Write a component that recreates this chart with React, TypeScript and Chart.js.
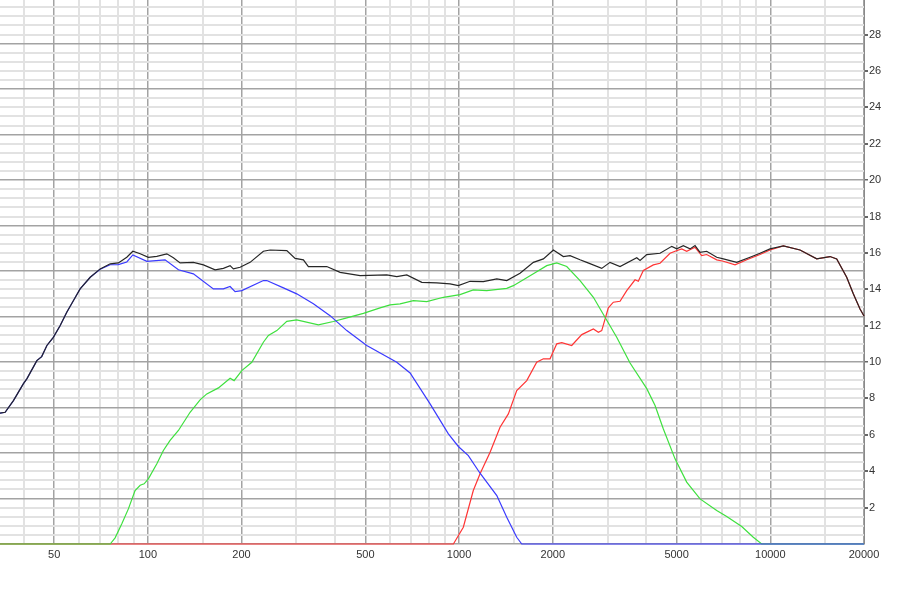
import { useEffect, useRef } from 'react';
import { Chart, registerables } from 'chart.js';

Chart.register(...registerables);

const FONT = '"Liberation Sans Narrow", "Liberation Sans", Arial, sans-serif';

// x-axis tick values (Hz)
const xMajorTicks = [50, 100, 200, 500, 1000, 2000, 5000, 10000, 20000];
const xMinorTicks = [40, 60, 70, 80, 90, 150, 300, 400, 600, 700, 800, 900, 1500, 3000, 4000, 6000, 7000, 8000, 9000, 15000];
// y-axis labelled ticks
const yTickLabels = [2, 4, 6, 8, 10, 12, 14, 16, 18, 20, 22, 24, 26, 28];

// Total (black)
const freqBlack = [33.5, 34.8, 37.0, 39.8, 40.9, 44.0, 45.6, 47.4, 49.7, 52.3, 54.9, 57.7, 60.6, 65.3, 70.3, 75.7, 80.4, 85.6, 89.5, 94.5, 100.4, 106.9, 115.1, 120.8, 127.0, 140.1, 150.9, 164.5, 174.9, 183.8, 188.3, 197.9, 213.1, 235.1, 247.1, 279.6, 297.3, 316.1, 328.0, 375.8, 414.7, 480.9, 585.7, 630.8, 679.2, 758.9, 847.8, 935.7, 994.7, 1085, 1197, 1322, 1423, 1570, 1733, 1866, 2009, 2163, 2273, 2447, 2572, 2873, 3055, 3290, 3723, 3815, 4009, 4423, 4824, 5005, 5254, 5521, 5730, 5947, 6246, 6727, 7063, 7801, 8606, 9267, 9978, 11014, 12458, 14096, 15553, 16344, 17597, 18477, 19420, 20000];
const dbBlack = [7.19, 7.24, 7.88, 8.80, 9.09, 10.08, 10.30, 10.91, 11.36, 12.01, 12.74, 13.38, 14.02, 14.66, 15.12, 15.40, 15.45, 15.76, 16.09, 15.95, 15.76, 15.81, 15.95, 15.73, 15.45, 15.48, 15.34, 15.07, 15.15, 15.30, 15.12, 15.21, 15.48, 16.09, 16.16, 16.13, 15.70, 15.62, 15.25, 15.25, 14.93, 14.75, 14.79, 14.70, 14.79, 14.38, 14.35, 14.30, 14.20, 14.44, 14.42, 14.57, 14.48, 14.88, 15.48, 15.67, 16.16, 15.80, 15.85, 15.62, 15.48, 15.15, 15.48, 15.25, 15.73, 15.58, 15.91, 15.98, 16.36, 16.22, 16.40, 16.22, 16.40, 16.03, 16.09, 15.76, 15.67, 15.48, 15.76, 15.98, 16.22, 16.38, 16.16, 15.67, 15.80, 15.67, 14.66, 13.75, 12.92, 12.53];

// Woofer (blue)
const freqBlue = [33.5, 34.8, 37.0, 39.8, 40.9, 44.0, 45.6, 47.4, 49.7, 52.3, 54.9, 57.7, 60.6, 65.3, 70.3, 75.7, 80.4, 85.6, 89.5, 99.3, 113.6, 125.4, 140.1, 162.4, 174.9, 183.8, 190.7, 200.4, 235.1, 241.1, 272.7, 300.9, 340.3, 385.1, 435.8, 505.1, 630.8, 696, 807, 924, 994.7, 1071, 1168, 1322, 1423, 1532, 1590, 20000];
const dbBlue = [7.19, 7.24, 7.88, 8.80, 9.09, 10.08, 10.30, 10.91, 11.36, 12.01, 12.74, 13.38, 14.02, 14.66, 15.10, 15.35, 15.36, 15.50, 15.89, 15.54, 15.62, 15.07, 14.85, 14.02, 14.02, 14.15, 13.87, 13.93, 14.48, 14.48, 14.08, 13.75, 13.20, 12.55, 11.73, 10.91, 9.99, 9.40, 7.70, 6.05, 5.36, 4.86, 3.89, 2.66, 1.47, 0.37, 0, 0];

// Midrange (green)
const freqGreen = [33.5, 75.7, 78.5, 82.5, 86.6, 91.0, 94.5, 97.3, 100.4, 106.9, 112.2, 117.9, 125.4, 136.7, 147.2, 154.7, 168.6, 183.8, 189.3, 200.4, 215.8, 235.1, 244.0, 259.7, 279.6, 300.9, 353.2, 394.7, 435.8, 492.7, 557.5, 600.2, 646.4, 713.2, 787.5, 890.6, 1007, 1111, 1227, 1423, 1494, 1733, 1913, 2060, 2218, 2447, 2701, 2944, 3210, 3543, 4009, 4263, 4533, 4942, 5387, 5947, 6727, 7243, 8093, 8817, 9383, 20000];
const dbGreen = [0, 0, 0.34, 1.11, 1.93, 2.94, 3.23, 3.31, 3.58, 4.41, 5.14, 5.69, 6.24, 7.24, 7.92, 8.25, 8.58, 9.11, 8.98, 9.53, 9.99, 11.09, 11.46, 11.73, 12.24, 12.32, 12.04, 12.23, 12.43, 12.68, 12.98, 13.14, 13.20, 13.38, 13.32, 13.56, 13.71, 13.97, 13.93, 14.05, 14.20, 14.85, 15.30, 15.45, 15.25, 14.48, 13.56, 12.46, 11.36, 9.95, 8.54, 7.61, 6.32, 4.68, 3.40, 2.48, 1.84, 1.51, 0.96, 0.37, 0, 0];

// Tweeter (red)
const freqRed = [33.5, 959, 1032, 1111, 1168, 1258, 1354, 1440, 1532, 1650, 1776, 1866, 1960, 2060, 2138, 2301, 2479, 2701, 2803, 2873, 3017, 3131, 3290, 3457, 3676, 3766, 3909, 4209, 4423, 4763, 4942, 5193, 5387, 5730, 6021, 6246, 6727, 7063, 7703, 8401, 9267, 9978, 11014, 12458, 14096, 15553, 16344, 17597, 18477, 19420, 20000];
const dbRed = [0, 0, 0.92, 2.94, 3.86, 5.04, 6.42, 7.15, 8.43, 8.98, 9.99, 10.18, 10.18, 11.00, 11.07, 10.91, 11.51, 11.82, 11.64, 11.73, 12.98, 13.29, 13.34, 13.93, 14.52, 14.44, 15.03, 15.34, 15.43, 15.98, 16.09, 16.22, 16.09, 16.31, 15.85, 15.91, 15.62, 15.54, 15.34, 15.62, 15.91, 16.16, 16.38, 16.16, 15.67, 15.80, 15.67, 14.66, 13.75, 12.92, 12.53];

const toPoints = (f: number[], d: number[]) => f.map((x, i) => ({ x, y: d[i] }));

export default function App() {
  const ref = useRef<HTMLCanvasElement>(null);

  useEffect(() => {
    if (!ref.current) return;
    const allX = [...xMajorTicks, ...xMinorTicks].sort((a, b) => a - b);
    const yGrid: number[] = [];
    for (let v = 0; v < 29.9; v += 0.5) yGrid.push(v);

    const isXMajor = (v: number) => xMajorTicks.includes(v);
    const isYMajor = (v: number) => Math.abs(v / 2.5 - Math.round(v / 2.5)) < 1e-6;

    const line = { borderWidth: 1.2, pointRadius: 0, clip: 4 };

    const chart = new Chart(ref.current, {
      type: 'line',
      data: {
        datasets: [
          { label: 'Total', data: toPoints(freqBlack, dbBlack), borderColor: '#262626', ...line },
          { label: 'Woofer', data: toPoints(freqBlue, dbBlue), borderColor: '#3a3aff', ...line },
          { label: 'Mid', data: toPoints(freqGreen, dbGreen), borderColor: '#3ee03e', ...line },
          { label: 'Tweeter', data: toPoints(freqRed, dbRed), borderColor: '#ff3434', ...line },
        ],
      },
      options: {
        responsive: false,
        animation: false,
        layout: { padding: 0 },
        elements: { line: { tension: 0 } },
        plugins: { legend: { display: false }, tooltip: { enabled: false } },
        scales: {
          x: {
            type: 'logarithmic',
            min: 33.5,
            max: 20000,
            afterBuildTicks: (s: any) => {
              s.ticks = allX.map((v) => ({ value: v }));
            },
            afterFit: (s: any) => {
              s.height = 56;
              s.paddingLeft = 0;
              s.paddingRight = 0;
            },
            ticks: {
              autoSkip: false,
              maxRotation: 0,
              minRotation: 0,
              padding: 4,
              color: '#333',
              font: { family: FONT, size: 11 },
              callback: (v: any) => (isXMajor(Number(v)) ? String(v) : ''),
            },
            grid: {
              drawTicks: false,
              color: (ctx: any) => (ctx.tick && isXMajor(ctx.tick.value) ? '#a3a3a3' : '#e2e2e2'),
              lineWidth: (ctx: any) => (ctx.tick && isXMajor(ctx.tick.value) ? 1.5 : 2),
            },
            border: { display: false },
          },
          y: {
            type: 'linear',
            position: 'right',
            min: 0,
            max: 29.9,
            afterBuildTicks: (s: any) => {
              s.ticks = yGrid.map((v) => ({ value: v }));
            },
            afterFit: (s: any) => {
              s.width = 36;
              s.paddingTop = 0;
              s.paddingBottom = 0;
            },
            ticks: {
              autoSkip: false,
              padding: 1,
              color: '#333',
              font: { family: FONT, size: 11 },
              callback: (v: any) => (yTickLabels.includes(Number(v)) ? String(v) : ''),
            },
            grid: {
              tickLength: 4,
              tickColor: (ctx: any) => (ctx.tick && yTickLabels.includes(ctx.tick.value) ? '#666' : 'rgba(0,0,0,0)'),
              color: (ctx: any) => (ctx.tick && isYMajor(ctx.tick.value) ? '#a3a3a3' : '#e2e2e2'),
              lineWidth: (ctx: any) => (ctx.tick && isYMajor(ctx.tick.value) ? 1.5 : 2),
            },
            border: { display: true, color: '#8a8a8a', width: 1 },
          },
        },
      },
    });
    return () => chart.destroy();
  }, []);

  return (
    <canvas
      ref={ref}
      width={900}
      height={600}
      style={{ position: 'absolute', left: 0, top: 0, display: 'block', width: 900, height: 600 }}
    />
  );
}
